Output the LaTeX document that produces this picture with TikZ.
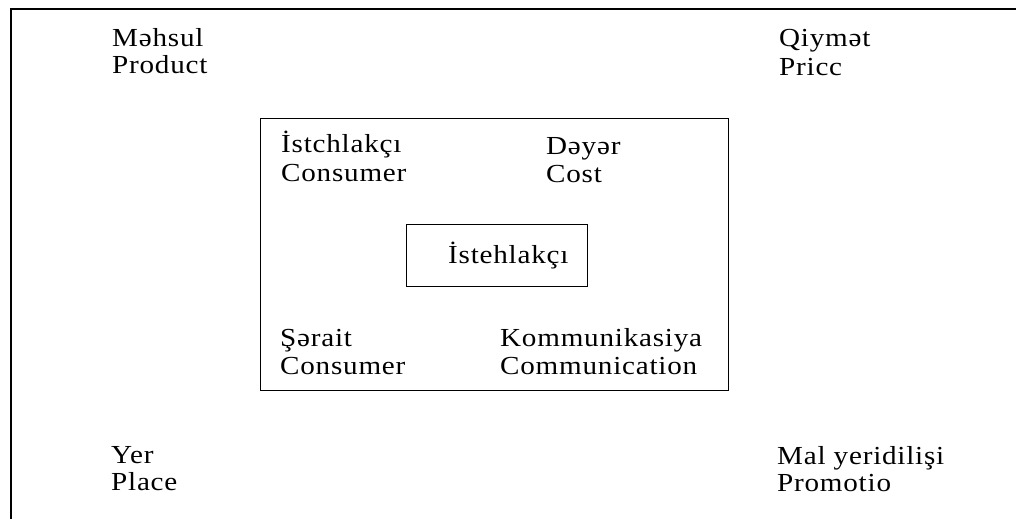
\documentclass[tikz,border=0pt]{standalone}
\usepackage{fontspec}
\setmainfont{Liberation Serif}[FakeStretch=1.12,LetterSpace=3]
\newcommand\lblsize{\fontsize{26}{30}\selectfont}
\begin{document}
\begin{tikzpicture}[x=1pt,y=-1pt,
  lbl/.style={anchor=base west,inner sep=0pt,font=\lblsize},
  frame/.style={draw,line width=1.1pt},
  boxline/.style={draw,line width=0.9pt,inner sep=0pt}]
\useasboundingbox (0,0) rectangle (1016,519);
% outer frame (cropped)
\draw[frame] (1016,9) -- (11,9) -- (11,519);
% boxes
\node[boxline,minimum width=468pt,minimum height=272pt] (inner) at (494,254) {};
\node[boxline,minimum width=181pt,minimum height=62pt] (core) at (496.5,255) {};
% corner labels
\node[lbl] (p1) at (112,46) {Məhsul};
\node[lbl] (p2) at (112,73) {Product};
\node[lbl] (q1) at (779,47) {Qiymət};
\node[lbl] (q2) at (779,75) {Pricc};
\node[lbl] (y1) at (111,463) {Yer};
\node[lbl] (y2) at (111,490) {Place};
\node[lbl] (m1) at (777,464) {Mal yeridilişi};
\node[lbl] (m2) at (777,491) {Promotio};
% inner labels
\node[lbl] (c1) at (281,152) {İstchlakçı};
\node[lbl] (c2) at (281,181) {Consumer};
\node[lbl] (d1) at (546,154) {Dəyər};
\node[lbl] (d2) at (546,182) {Cost};
\node[lbl] (s1) at (280,346) {Şərait};
\node[lbl] (s2) at (280,374) {Consumer};
\node[lbl] (k1) at (500,346) {Kommunikasiya};
\node[lbl] (k2) at (500,374) {Communication};
% core label
\node[lbl] (coretext) at (448,263) {İstehlakçı};
\end{tikzpicture}
\end{document}
